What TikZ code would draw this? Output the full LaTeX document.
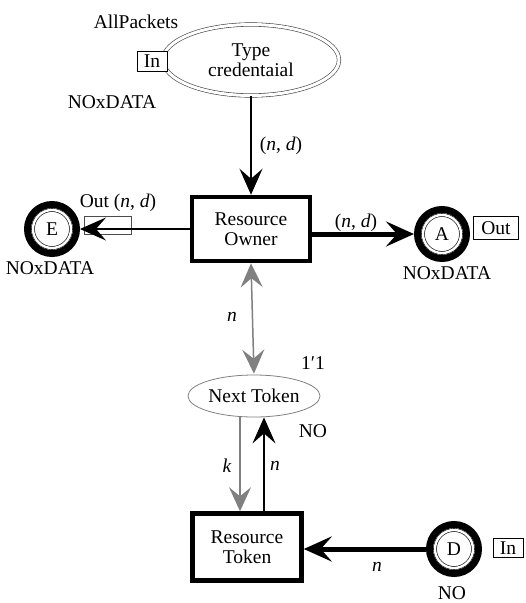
\documentclass[tikz,border=0pt]{standalone}
\usepackage{fontspec}
\setmainfont{Liberation Serif}
\usetikzlibrary{arrows.meta,shapes.geometric}
\begin{document}
\begin{tikzpicture}[x=1pt,y=-1pt,
  font=\fontsize{19.5}{20}\selectfont,
  transbox/.style={draw, line width=4.5pt, align=center, inner sep=0pt},
  ring/.style={circle, draw, line width=7pt, inner sep=0pt, minimum size=49pt},
  innerring/.style={circle, draw, double, double distance=2.4pt, line width=0.6pt, inner sep=0pt, minimum size=38pt},
  portbox/.style={draw, fill=white, line width=0.7pt, inner sep=0pt},
  lbl/.style={inner sep=1pt},
  thinarr/.style={line width=1.2pt, -{Stealth[length=26pt,width=23pt,inset=10pt]}},
  thickarr/.style={line width=5pt, -{Stealth[length=28pt,width=25pt,inset=11pt]}},
  grayarr/.style={line width=1.5pt, draw=gray, {Stealth[length=24pt,width=22pt,inset=9pt,gray]}-{Stealth[length=24pt,width=22pt,inset=9pt,gray]}},
  grayone/.style={line width=1.5pt, draw=gray, -{Stealth[length=24pt,width=22pt,inset=9pt,gray]}}
]
\useasboundingbox (0,0) rectangle (526,603);

% Type credentaial place
\node[ellipse, draw=black!75, double, double distance=3pt, line width=0.6pt,
      minimum width=176pt, minimum height=71pt, align=center, inner sep=0pt] (TC) at (251,60) {Type\\credentaial};
\node[portbox, minimum width=30pt, minimum height=20pt] (inTC) at (152,61) {In};
\node[lbl] (allp) at (136,22) {AllPackets};
\node[lbl] (ndTC) at (112,102) {NOxDATA};

% Resource Owner transition
\node[transbox, minimum width=118pt, minimum height=64pt] (RO) at (251,229) {Resource\\Owner};
\draw[thinarr] (TC.south) -- (RO.north);
\node[lbl] (ndlab1) at (281,146) {(\textit{n}, \textit{d})};

% E place
\node[ring] (E) at (52,229) {};
\node[innerring] (Ei) at (E) {E};
\node[portbox, fill=none, draw=black!70, minimum width=47pt, minimum height=18pt] (Ebox) at (108,225) {};
\draw[thinarr] (RO.west) -- (E.east);
\node[lbl] (outE) at (118,203) {Out (\textit{n}, \textit{d})};
\node[lbl] (ndE) at (50,268) {NOxDATA};

% A place
\node[ring] (A) at (442,234) {};
\node[innerring] (Ai) at (A) {A};
\node[portbox, minimum width=45pt, minimum height=23pt] (outA) at (496,228) {Out};
\coordinate (ROr) at (RO.east |- A.west);
\draw[thickarr] (ROr) -- (A.west);
\node[lbl] (ndlab2) at (356,223) {(\textit{n}, \textit{d})};
\node[lbl] (ndA) at (447,273) {NOxDATA};

% Next Token place
\node[ellipse, draw=gray, line width=0.8pt, minimum width=132pt, minimum height=42pt, inner sep=0pt] (NT) at (254,396) {Next Token};
\draw[grayarr, shorten >=1pt] (RO.south) -- (NT.north);
\node[lbl] (nlab1) at (232,317) {\textit{n}};
\node[lbl] (init) at (313,363) {1′1};
\node[lbl] (noNT) at (313,431) {NO};

% Resource Token transition
\node[transbox, minimum width=109pt, minimum height=67pt] (RT) at (247,547) {Resource\\Token};
\draw[grayone] ([xshift=-14pt]NT.south) -- ([xshift=-7pt]RT.north);
\draw[thinarr] ([xshift=17pt]RT.north) -- ([xshift=10pt]NT.south);
\node[lbl] (klab) at (227,466) {\textit{k}};
\node[lbl] (nlab2) at (275,466) {\textit{n}};

% D place
\node[ring] (D) at (454,549) {};
\node[innerring] (Di) at (D) {D};
\node[portbox, minimum width=30pt, minimum height=19pt] (inD) at (508,548) {In};
\draw[thickarr] (D.west) -- (RT.east |- D.west);
\node[lbl] (nlab3) at (377,567) {\textit{n}};
\node[lbl] (noD) at (452,593) {NO};
\end{tikzpicture}
\end{document}
